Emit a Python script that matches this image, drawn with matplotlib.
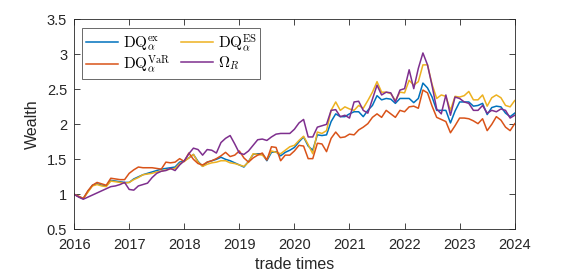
import numpy as np
import matplotlib.pyplot as plt

plt.rcParams['font.family'] = ['Liberation Sans', 'DejaVu Sans']
plt.rcParams['mathtext.fontset'] = 'cm'

# monthly wealth, Jan 2016 .. Jan 2024
dq_ex = [1.00, 0.97, 0.94, 1.04, 1.13, 1.15, 1.13, 1.12, 1.20, 1.19, 1.18, 1.17,
         1.17, 1.22, 1.25, 1.28, 1.30, 1.32, 1.34, 1.36, 1.37, 1.38, 1.39, 1.46,
         1.48, 1.52, 1.57, 1.47, 1.40, 1.46, 1.48, 1.50, 1.53, 1.50, 1.48, 1.45,
         1.42, 1.39, 1.47, 1.57, 1.58, 1.58, 1.48, 1.60, 1.61, 1.55, 1.60, 1.63,
         1.67, 1.75, 1.82, 1.69, 1.63, 1.85, 1.84, 1.85, 2.04, 2.15, 2.11, 2.11,
         2.15, 2.18, 2.18, 2.11, 2.20, 2.27, 2.41, 2.35, 2.37, 2.36, 2.30, 2.37,
         2.37, 2.37, 2.31, 2.37, 2.59, 2.52, 2.39, 2.20, 2.20, 2.20, 2.02, 2.19,
         2.32, 2.32, 2.32, 2.26, 2.27, 2.30, 2.14, 2.24, 2.26, 2.25, 2.16, 2.11,
         2.16]
dq_es = [1.00, 0.97, 0.94, 1.03, 1.12, 1.14, 1.12, 1.11, 1.19, 1.18, 1.17, 1.16,
         1.17, 1.21, 1.24, 1.28, 1.29, 1.30, 1.32, 1.33, 1.35, 1.36, 1.37, 1.44,
         1.47, 1.52, 1.57, 1.46, 1.40, 1.43, 1.45, 1.46, 1.48, 1.48, 1.45, 1.44,
         1.42, 1.40, 1.46, 1.58, 1.57, 1.56, 1.50, 1.62, 1.60, 1.58, 1.63, 1.68,
         1.70, 1.77, 1.83, 1.71, 1.58, 1.89, 1.87, 1.91, 2.20, 2.32, 2.20, 2.25,
         2.22, 2.20, 2.27, 2.23, 2.34, 2.46, 2.61, 2.46, 2.46, 2.44, 2.34, 2.46,
         2.45, 2.63, 2.56, 2.61, 2.85, 2.85, 2.57, 2.37, 2.42, 2.40, 2.20, 2.40,
         2.39, 2.41, 2.47, 2.35, 2.35, 2.42, 2.26, 2.38, 2.42, 2.38, 2.27, 2.25,
         2.34]
dq_var = [1.00, 0.97, 0.94, 1.05, 1.13, 1.17, 1.15, 1.13, 1.23, 1.22, 1.21, 1.21,
          1.30, 1.35, 1.39, 1.38, 1.38, 1.38, 1.37, 1.36, 1.46, 1.45, 1.46, 1.51,
          1.47, 1.59, 1.50, 1.44, 1.42, 1.46, 1.48, 1.51, 1.55, 1.60, 1.54, 1.56,
          1.62, 1.52, 1.46, 1.52, 1.56, 1.59, 1.49, 1.68, 1.67, 1.48, 1.56, 1.56,
          1.62, 1.70, 1.69, 1.51, 1.51, 1.73, 1.72, 1.61, 1.80, 1.89, 1.81, 1.82,
          1.86, 1.85, 1.92, 1.96, 2.01, 2.10, 2.15, 2.10, 2.20, 2.15, 2.10, 2.20,
          2.18, 2.25, 2.26, 2.23, 2.49, 2.45, 2.26, 2.10, 2.07, 2.04, 1.88, 1.98,
          2.09, 2.09, 2.08, 2.05, 2.01, 2.08, 1.91, 2.00, 2.11, 2.06, 1.96, 1.91,
          2.01]
omega_r = [1.00, 0.96, 0.93, 0.96, 0.99, 1.02, 1.05, 1.08, 1.11, 1.12, 1.14, 1.17,
           1.07, 1.06, 1.12, 1.14, 1.16, 1.24, 1.30, 1.33, 1.34, 1.37, 1.34, 1.42,
           1.48, 1.58, 1.66, 1.64, 1.56, 1.64, 1.63, 1.59, 1.74, 1.80, 1.84, 1.72,
           1.59, 1.57, 1.62, 1.70, 1.78, 1.79, 1.77, 1.82, 1.86, 1.87, 1.87, 1.87,
           1.93, 2.02, 2.07, 1.82, 1.82, 1.96, 1.98, 2.00, 2.20, 2.21, 2.11, 2.13,
           2.09, 2.32, 2.33, 2.20, 2.16, 2.36, 2.56, 2.42, 2.46, 2.45, 2.32, 2.49,
           2.51, 2.78, 2.51, 2.80, 3.02, 2.85, 2.55, 2.22, 2.15, 2.42, 2.13, 2.39,
           2.37, 2.32, 2.30, 2.20, 2.20, 2.27, 2.16, 2.20, 2.18, 2.22, 2.20, 2.09,
           2.13]
years = list(range(2016, 2025))
yticks = [0.5, 1, 1.5, 2, 2.5, 3, 3.5]

t = 2016 + np.arange(len(dq_ex)) / 12

fig = plt.figure(figsize=(5.7, 2.73), dpi=100)
ax = fig.add_axes([0.130, 0.160, 0.773, 0.769])

lw = 1.1
h_ex, = ax.plot(t, dq_ex, color='#0072BD', lw=lw)
h_es, = ax.plot(t, dq_es, color='#EDB120', lw=lw)
h_var, = ax.plot(t, dq_var, color='#D95319', lw=lw)
h_om, = ax.plot(t, omega_r, color='#7E2F8E', lw=lw)

ax.set_xlim(2016, 2024)
ax.set_ylim(0.5, 3.5)
ax.set_xticks(years)
ax.set_yticks(yticks)
ax.set_yticklabels(['0.5', '1', '1.5', '2', '2.5', '3', '3.5'])
ax.tick_params(direction='in', top=True, right=True, length=4, width=0.6,
               labelsize=10.5, colors='#262626')
ax.tick_params(axis='x', pad=6)
ax.tick_params(axis='y', pad=5)
for s in ax.spines.values():
    s.set_linewidth(0.6)
    s.set_color('#262626')

ax.set_xlabel('trade times', fontsize=11.5, color='#262626', labelpad=4)
ax.set_ylabel('Wealth', fontsize=11.5, color='#262626', labelpad=5)

leg = ax.legend([h_ex, h_var, h_es, h_om],
                [r'$\mathrm{DQ}_{\alpha}^{\mathrm{ex}}$', r'$\mathrm{DQ}_{\alpha}^{\mathrm{VaR}}$',
                 r'$\mathrm{DQ}_{\alpha}^{\mathrm{ES}}$', r'$\Omega_R$'],
                ncol=2, loc='upper left', bbox_to_anchor=(0.019, 0.957),
                fontsize=11, frameon=True, fancybox=False, borderaxespad=0,
                handlelength=2.1, handletextpad=0.3, columnspacing=0.7,
                labelspacing=0.05, borderpad=0.25)
leg.get_frame().set_edgecolor('#262626')
leg.get_frame().set_linewidth(0.6)

fig.savefig('out.png', dpi=100)
